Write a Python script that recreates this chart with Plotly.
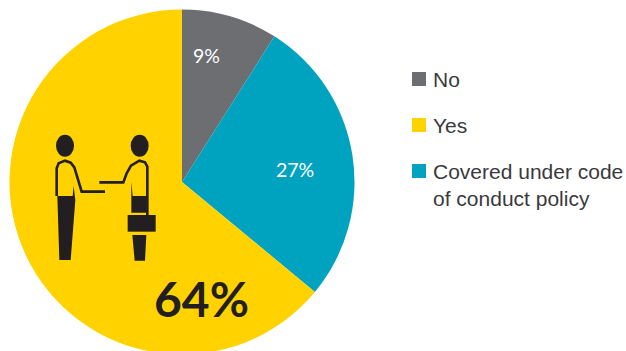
import plotly.graph_objects as go

W, H = 626, 356

categories = ["No", "Covered under code<br>of conduct policy", "Yes"]
values = [9, 27, 64]
colors = ["#6D6E71", "#00A3BF", "#FFD200"]

legend_order = ["No", "Yes", "Covered under code<br>of conduct policy"]
legend_colors = ["#6D6E71", "#FFD200", "#00A3BF"]
legend_rows_y = [79, 125, 171]

label_pos = [(206, 56), (295, 170), (201, 298)]
label_sizes = [19.5, 19.5, 48]
label_weights = [400, 400, 700]
label_colors = ["#FFFFFF", "#FFFFFF", "#231F20"]

INK = "#231F20"


def px(x):
    return x / W


def py(y):
    return 1 - y / H


def icon_path(points, close=True):
    # Points are given on a 3x icon grid anchored at (30, 120) on the canvas.
    parts = []
    for i, (a, b) in enumerate(points):
        parts.append(f"{'M' if i == 0 else 'L'} {px(30 + a / 3):.5f} {py(120 + b / 3):.5f}")
    return " ".join(parts) + (" Z" if close else "")


def ellipse(cx, cy, rx, ry):
    return dict(type="circle", xref="paper", yref="paper",
                x0=px(30 + (cx - rx) / 3), x1=px(30 + (cx + rx) / 3),
                y0=py(120 + (cy + ry) / 3), y1=py(120 + (cy - ry) / 3),
                fillcolor=INK, line_width=0, layer="above")


def solid(points):
    return dict(type="path", xref="paper", yref="paper", path=icon_path(points),
                fillcolor=INK, line_width=0, layer="above")


def stroke(points, width=2.6):
    return dict(type="path", xref="paper", yref="paper", path=icon_path(points, close=False),
                line=dict(color=INK, width=width), fillcolor="rgba(0,0,0,0)", layer="above")


# Two figures shaking hands, the right one holding a briefcase.
left_arm = [(80, 228), (80, 145), (86, 130), (105, 122), (122, 128), (133, 142),
            (143, 175), (155, 215), (225, 215)]
left_legs = [(82, 228), (128, 228), (131, 198), (136, 240), (122, 420), (88, 420)]
right_arm = [(208, 187), (280, 187), (290, 160), (303, 137), (328, 122), (345, 127),
             (352, 140), (352, 285)]
right_waist = [(304, 185), (308, 228), (350, 228), (350, 278), (304, 278)]
briefcase = [(293, 285), (377, 285), (377, 335), (293, 335)]
right_shin = [(307, 345), (349, 345), (345, 422), (314, 422)]

shapes = [
    ellipse(105, 77, 27, 33),
    ellipse(329, 77, 27, 33),
    stroke(left_arm),
    solid(left_legs),
    stroke(right_arm),
    solid(right_waist),
    solid(briefcase),
    solid(right_shin),
]

annotations = []
for v, (x, y), size, weight, col in zip(values, label_pos, label_sizes, label_weights, label_colors):
    annotations.append(dict(
        text=f"{v}%", xref="paper", yref="paper", x=px(x), y=py(y),
        xanchor="center", yanchor="middle", showarrow=False,
        font=dict(family="Lato", size=size, color=col, weight=weight),
    ))

for name, col, y in zip(legend_order, legend_colors, legend_rows_y):
    shapes.append(dict(type="rect", xref="paper", yref="paper",
                       x0=px(412), x1=px(426), y0=py(y + 7), y1=py(y - 7),
                       fillcolor=col, line_width=0))
    annotations.append(dict(
        text=name, xref="paper", yref="paper", x=px(430.5), y=py(y - 13),
        xanchor="left", yanchor="top", align="left", showarrow=False,
        font=dict(family="Liberation Sans, Arial, sans-serif", size=21, color="#3A3A3C"),
    ))

fig = go.Figure(go.Pie(
    labels=categories,
    values=values,
    marker=dict(colors=colors, line=dict(width=0)),
    sort=False,
    direction="clockwise",
    rotation=0,
    textinfo="none",
    hoverinfo="label+percent",
    domain=dict(x=[px(9.5), px(354.5)], y=[py(354.5), py(9.5)]),
))

fig.update_layout(
    width=W,
    height=H,
    margin=dict(l=0, r=0, t=0, b=0),
    paper_bgcolor="white",
    showlegend=False,
    shapes=shapes,
    annotations=annotations,
)

# The pie runs slightly past the bottom of the viewport, so page scrolling stays off.
fig.write_html("out.html", config={"displayModeBar": False},
               post_script="document.documentElement.style.overflow='hidden';document.body.style.overflow='hidden';")
